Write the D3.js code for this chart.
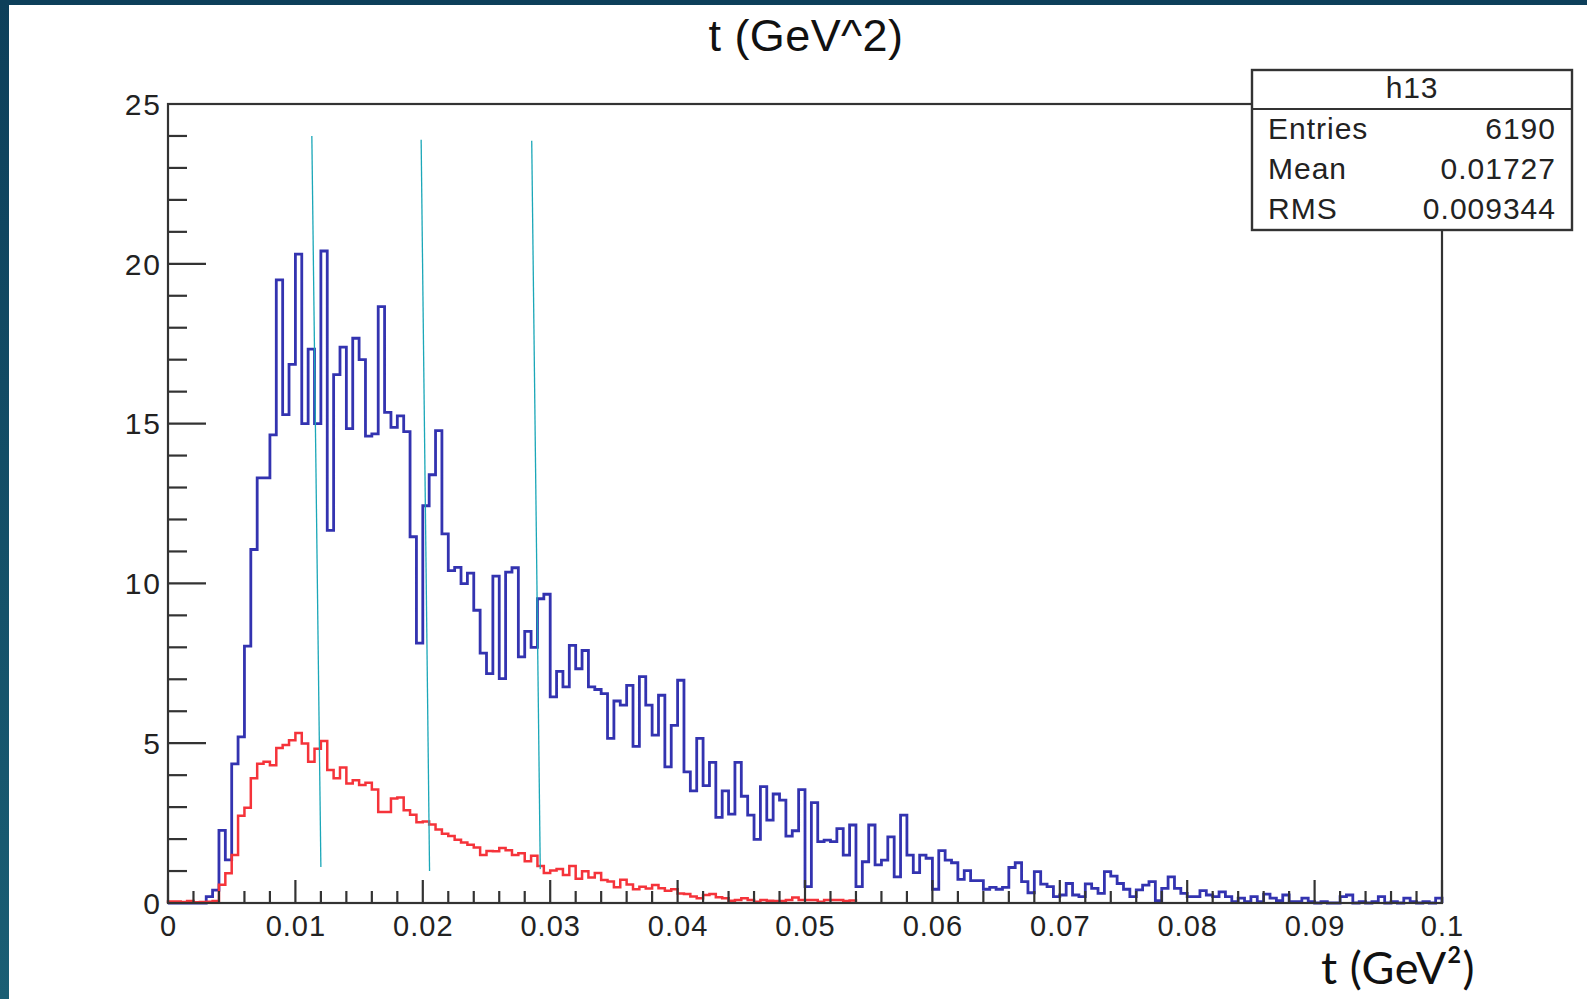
<!DOCTYPE html>
<html><head><meta charset="utf-8">
<script src="https://cdn.jsdelivr.net/npm/d3@7"></script>
<style>html,body{margin:0;padding:0;background:#fff;} svg{display:block}</style>
</head><body>
<svg id="chart" width="1587" height="999"></svg>
<script>
// Histogram h13: t (GeV^2), 200 bins from 0 to 0.1
const binWidth = 0.0005;
const xDomain = [0, 0.1];
const yDomain = [0, 25];

// Blue: all entries (bin contents, bin 0 .. 199)
const blueCounts = [
  0, 0, 0, 0, 0, 0, 0.2, 0.4, 2.27, 1.35,
  4.35, 5.2, 8.04, 11.06, 13.3, 13.3, 14.65, 19.5, 15.28, 16.85,
  20.3, 15.0, 17.33, 15.0, 20.4, 11.66, 16.53, 17.39, 14.84, 17.67,
  17.0, 14.61, 14.68, 18.66, 15.35, 14.88, 15.24, 14.75, 11.46, 8.13,
  12.43, 13.4, 14.78, 11.55, 10.4, 10.5, 9.99, 10.32, 9.16, 7.82,
  7.18, 10.23, 7.02, 10.35, 10.49, 7.7, 8.5, 8.0, 9.52, 9.66,
  6.45, 7.25, 6.76, 8.06, 7.33, 7.9, 6.76, 6.68, 6.55, 5.15,
  6.32, 6.19, 6.81, 4.9, 7.08, 6.19, 5.25, 6.5, 4.26, 5.56,
  6.97, 4.1, 3.51, 5.15, 3.67, 4.4, 2.68, 3.51, 2.78, 4.4,
  3.34, 2.75, 1.99, 3.64, 2.59, 3.41, 3.22, 2.09, 2.26, 3.55,
  0.51, 3.14, 1.92, 1.97, 1.92, 2.33, 1.5, 2.44, 0.51, 1.29,
  2.44, 1.19, 1.34, 2.07, 0.82, 2.75, 1.5, 0.95, 1.5, 1.4,
  0.43, 1.64, 1.34, 1.26, 0.74, 1.01, 0.7, 0.7, 0.43, 0.49,
  0.43, 0.49, 1.11, 1.26, 0.67, 0.32, 0.98, 0.59, 0.51, 0.2,
  0.25, 0.61, 0.25, 0.2, 0.6, 0.46, 0.3, 0.98, 0.84, 0.61,
  0.43, 0.2, 0.41, 0.56, 0.67, 0.07, 0.46, 0.82, 0.46, 0.3,
  0.2, 0.2, 0.39, 0.25, 0.2, 0.35, 0.2, 0.04, 0.15, 0.04,
  0.2, 0.04, 0.28, 0.15, 0.07, 0.25, 0.04, 0.04, 0.15, 0.04,
  0, 0.04, 0, 0, 0.2, 0.25, 0, 0.04, 0, 0.04,
  0.2, 0, 0.04, 0, 0.15, 0.04, 0, 0.04, 0, 0.15
];

// Red: selected subset (bin 0 .. 107, empty afterwards)
const redCounts = [
  0.05, 0.05, 0.03, 0.06, 0.02, 0.03, 0.04, 0.06, 0.57, 0.93,
  1.5, 2.73, 2.98, 3.9, 4.36, 4.42, 4.31, 4.85, 4.94, 5.09,
  5.32, 4.99, 4.42, 4.83, 5.07, 4.16, 3.9, 4.24, 3.74, 3.84,
  3.69, 3.76, 3.55, 2.85, 2.85, 3.27, 3.3, 2.9, 2.76, 2.53,
  2.55, 2.46, 2.3, 2.17, 2.1, 1.98, 1.89, 1.82, 1.74, 1.5,
  1.63, 1.62, 1.72, 1.65, 1.5, 1.56, 1.31, 1.48, 1.16, 0.94,
  1.02, 1.06, 0.88, 1.16, 0.76, 0.99, 0.8, 0.94, 0.72, 0.67,
  0.49, 0.73, 0.58, 0.43, 0.51, 0.45, 0.56, 0.46, 0.38, 0.43,
  0.3, 0.28, 0.2, 0.15, 0.25, 0.28, 0.18, 0.15, 0.07, 0.09,
  0.15, 0.09, 0.04, 0.09, 0.07, 0.06, 0.06, 0.09, 0.17, 0.09,
  0.09, 0.09, 0.04, 0.09, 0.09, 0.09, 0.06, 0.08
];

const xTickValues = [0, 0.01, 0.02, 0.03, 0.04, 0.05, 0.06, 0.07, 0.08, 0.09, 0.1];
const xTickLabels = ["0", "0.01", "0.02", "0.03", "0.04", "0.05", "0.06", "0.07", "0.08", "0.09", "0.1"];
const yTickValues = [0, 5, 10, 15, 20, 25];
const yTickLabels = ["0", "5", "10", "15", "20", "25"];

const titleText = "t (GeV^2)";
const axisTitle = "t (GeV\u00B2)";
const statsName = "h13";
const statsLabels = ["Entries", "Mean", "RMS"];
const statsValues = ["6190", "0.01727", "0.009344"];

// Hand-drawn cut markers (x, y in data units: top point, bottom point)
const markerTopX = [0.01129, 0.01987, 0.02855];
const markerTopY = [24.0, 23.88, 23.85];
const markerBotX = [0.0120, 0.02053, 0.02922];
const markerBotY = [1.13, 1.0, 1.06];

// ---------------------------------------------------------------
const svg = d3.select("#chart");
const W = 1587, H = 999;
const frame = {left: 168, right: 1442, top: 104, bottom: 903};
const rootFont = "'Liberation Sans', Arial, sans-serif";

const x = d3.scaleLinear().domain(xDomain).range([frame.left, frame.right]);
const y = d3.scaleLinear().domain(yDomain).range([frame.bottom, frame.top]);

// Slide background with dark band along the left and top edges
const defs = svg.append("defs");
const grad = defs.append("linearGradient").attr("id", "band")
  .attr("x1", 0).attr("y1", 0).attr("x2", 0).attr("y2", 1);
grad.append("stop").attr("offset", "0%").attr("stop-color", "#0d3f5a");
grad.append("stop").attr("offset", "100%").attr("stop-color", "#1a5e74");
svg.append("rect").attr("width", W).attr("height", H).attr("fill", "url(#band)");
svg.append("rect").attr("x", 9).attr("y", 5).attr("width", W - 9).attr("height", H - 5).attr("fill", "#fff");

// Title
svg.append("text")
  .attr("x", 806).attr("y", 51)
  .attr("text-anchor", "middle")
  .attr("font-family", rootFont)
  .attr("font-size", 45)
  .attr("letter-spacing", 0.4)
  .attr("fill", "#111")
  .text(titleText);

// Histogram outlines
function histPoints(counts) {
  const pts = [{e: 0, v: 0}];
  counts.forEach((v, i) => pts.push({e: i * binWidth, v: v}));
  pts.push({e: counts.length * binWidth, v: counts[counts.length - 1]});
  pts.push({e: counts.length * binWidth, v: 0});
  return pts;
}
const step = d3.line()
  .x(d => x(d.e))
  .y(d => y(d.v))
  .curve(d3.curveStepAfter);

const plot = svg.append("g");
plot.append("path")
  .attr("d", step(histPoints(blueCounts)))
  .attr("fill", "none")
  .attr("stroke", "#3333b0")
  .attr("stroke-width", 2.8)
  .attr("stroke-linejoin", "miter");

plot.append("path")
  .attr("d", step(histPoints(redCounts)))
  .attr("fill", "none")
  .attr("stroke", "#f5333a")
  .attr("stroke-width", 2.5)
  .attr("stroke-linejoin", "miter");

// Cut markers
plot.selectAll("line.marker")
  .data(d3.range(markerTopX.length))
  .join("line")
  .attr("class", "marker")
  .attr("x1", i => x(markerTopX[i])).attr("y1", i => y(markerTopY[i]))
  .attr("x2", i => x(markerBotX[i])).attr("y2", i => y(markerBotY[i]))
  .attr("stroke", "#1ba7b8")
  .attr("stroke-width", 1.3);

// Frame
const frameColor = "#333";
svg.append("rect")
  .attr("x", frame.left).attr("y", frame.top)
  .attr("width", frame.right - frame.left).attr("height", frame.bottom - frame.top)
  .attr("fill", "none").attr("stroke", frameColor).attr("stroke-width", 2.2);

// X axis ticks: major every 0.01, minor every 0.002
const xMinor = d3.range(0, 51).map(k => k * 0.002).filter(v => Math.abs(v / 0.01 - Math.round(v / 0.01)) > 1e-6);
const gx = svg.append("g");
gx.selectAll("line.xmaj").data(xTickValues).join("line")
  .attr("x1", d => x(d)).attr("x2", d => x(d))
  .attr("y1", frame.bottom).attr("y2", frame.bottom - 23)
  .attr("stroke", frameColor).attr("stroke-width", 2.2);
gx.selectAll("line.xmin").data(xMinor).join("line")
  .attr("x1", d => x(d)).attr("x2", d => x(d))
  .attr("y1", frame.bottom).attr("y2", frame.bottom - 12)
  .attr("stroke", frameColor).attr("stroke-width", 2.2);
gx.selectAll("text").data(xTickValues).join("text")
  .attr("x", d => x(d) + 0.5).attr("y", 936)
  .attr("text-anchor", "middle")
  .attr("font-family", rootFont)
  .attr("font-size", 29)
  .attr("letter-spacing", 1)
  .attr("fill", "#222")
  .text((d, i) => xTickLabels[i]);

// Y axis ticks: major every 5, minor every 1
const yMinor = d3.range(0, 26).filter(v => v % 5 !== 0);
const gy = svg.append("g");
gy.selectAll("line.ymaj").data(yTickValues).join("line")
  .attr("x1", frame.left).attr("x2", frame.left + 38)
  .attr("y1", d => y(d)).attr("y2", d => y(d))
  .attr("stroke", frameColor).attr("stroke-width", 2.2);
gy.selectAll("line.ymin").data(yMinor).join("line")
  .attr("x1", frame.left).attr("x2", frame.left + 19)
  .attr("y1", d => y(d)).attr("y2", d => y(d))
  .attr("stroke", frameColor).attr("stroke-width", 2.2);
gy.selectAll("text").data(yTickValues).join("text")
  .attr("x", 162).attr("y", d => y(d))
  .attr("dy", "0.36em")
  .attr("text-anchor", "end")
  .attr("font-family", rootFont)
  .attr("font-size", 30)
  .attr("letter-spacing", 2)
  .attr("fill", "#222")
  .text((d, i) => yTickLabels[i]);

// Axis title
svg.append("text")
  .attr("x", 1321).attr("y", 984)
  .attr("font-family", "Lato, 'Open Sans', sans-serif")
  .attr("font-size", 45)
  .attr("letter-spacing", 0.6)
  .attr("fill", "#111")
  .text(axisTitle);

// Statistics box
const box = {x: 1252, y: 70, w: 320, h: 160, header: 39};
const sb = svg.append("g");
sb.append("rect")
  .attr("x", box.x).attr("y", box.y).attr("width", box.w).attr("height", box.h)
  .attr("fill", "#fff").attr("stroke", frameColor).attr("stroke-width", 2.4);
sb.append("line")
  .attr("x1", box.x).attr("x2", box.x + box.w)
  .attr("y1", box.y + box.header).attr("y2", box.y + box.header)
  .attr("stroke", frameColor).attr("stroke-width", 2.2);
sb.append("text")
  .attr("x", box.x + box.w / 2).attr("y", 98)
  .attr("text-anchor", "middle")
  .attr("font-family", rootFont)
  .attr("font-size", 30).attr("letter-spacing", 0.8).attr("fill", "#222")
  .text(statsName);
const rowY = [139, 179, 219];
statsLabels.forEach((lab, i) => {
  sb.append("text")
    .attr("x", 1268).attr("y", rowY[i])
    .attr("font-family", rootFont)
    .attr("font-size", 30).attr("letter-spacing", 1).attr("fill", "#222")
    .text(lab);
  sb.append("text")
    .attr("x", 1556).attr("y", rowY[i])
    .attr("text-anchor", "end")
    .attr("font-family", rootFont)
    .attr("font-size", 30).attr("letter-spacing", 1).attr("fill", "#222")
    .text(statsValues[i]);
});
</script>
</body></html>
